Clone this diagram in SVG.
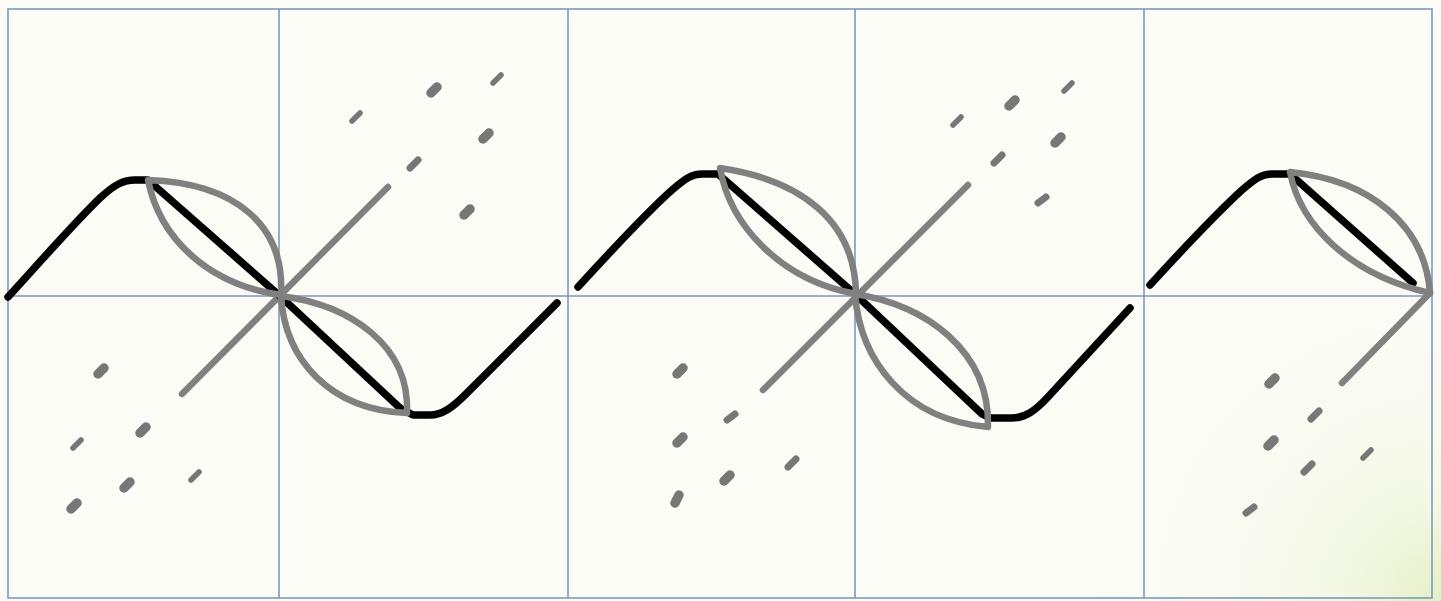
<svg xmlns="http://www.w3.org/2000/svg" width="1441" height="601" viewBox="0 0 1441 601">
<defs>
<radialGradient id="tint" cx="1441" cy="601" r="360" gradientUnits="userSpaceOnUse">
<stop offset="0" stop-color="#e6f0c8"/>
<stop offset="0.3" stop-color="#f4f8e6"/>
<stop offset="1" stop-color="#fbfcf6" stop-opacity="0"/>
</radialGradient>
<style>
.grid{fill:none;stroke:#7d99bf;stroke-width:1.6}
.blk{fill:none;stroke:#000;stroke-width:7.5;stroke-linecap:round;stroke-linejoin:round}
.gry{fill:none;stroke:#808080;stroke-width:6.5;stroke-linecap:round;stroke-linejoin:round}
.dt{stroke:#777;stroke-width:9.5;stroke-linecap:round}
.dm{stroke:#777;stroke-width:7;stroke-linecap:round}
.ds{stroke:#777;stroke-width:5.5;stroke-linecap:round}
</style>
</defs>
<rect width="1441" height="601" fill="#fbfcf6"/>
<rect width="1441" height="601" fill="url(#tint)"/>
<g id="grid">
<rect class="grid" x="8" y="9" width="1424" height="589"/>
<line class="grid" x1="279" y1="9" x2="279" y2="598"/>
<line class="grid" x1="568" y1="9" x2="568" y2="598"/>
<line class="grid" x1="855" y1="9" x2="855" y2="598"/>
<line class="grid" x1="1144" y1="9" x2="1144" y2="598"/>
<line class="grid" x1="8" y1="296" x2="1432" y2="296"/>
</g>
<g id="wave1">
<path class="gry" d="M182,394 L388,187"/>
<path class="blk" d="M8,297 C40,262 75,222 100,198 C115,184 124,180 135,180 L148,180 L280,296 L400,408 L413,415 L430,415 C442,415 452,408 466,394 C500,360 530,330 557,303"/>
<path class="gry" d="M148,180 C235,183 285,225 281,295 C210,285 160,240 148,180 Z"/>
<path class="gry" d="M281,296 C350,305 410,345 407,413 C330,410 285,360 281,296 Z"/>
</g>
<g id="wave2">
<path class="gry" d="M763,390 L968,185"/>
<path class="blk" d="M578,287 C610,252 645,214 672,190 C686,178 692,174 702,174 L718,174 L855,294 L982,414 L990,418 L1012,418 C1025,418 1035,411 1048,397 C1080,362 1105,335 1130,308"/>
<path class="gry" d="M720,168 C800,180 855,220 856,294 C780,280 730,225 720,168 Z"/>
<path class="gry" d="M855,294 C925,305 990,350 988,427 C905,420 860,360 855,294 Z"/>
</g>
<g id="wave3">
<path class="gry" d="M1342,383 L1430,293"/>
<path class="blk" d="M1150,285 C1182,250 1217,213 1242,190 C1256,178 1262,174 1272,174 L1290,174 L1413,283"/>
<path class="gry" d="M1290,172 C1370,180 1425,225 1430,293 C1350,275 1300,225 1290,172 Z"/>
</g>
<g id="dashes1">
<line class="ds" x1="352" y1="121" x2="360" y2="113"/>
<line class="dt" x1="431" y1="93" x2="437" y2="87"/>
<line class="ds" x1="493" y1="83" x2="501" y2="75"/>
<line class="dt" x1="483" y1="139" x2="489" y2="133"/>
<line class="dm" x1="410" y1="168" x2="418" y2="160"/>
<line class="dt" x1="464" y1="215" x2="470" y2="209"/>
<line class="dt" x1="98" y1="374" x2="104" y2="368"/>
<line class="dt" x1="140" y1="433" x2="146" y2="427"/>
<line class="ds" x1="73" y1="448" x2="81" y2="440"/>
<line class="dt" x1="124" y1="488" x2="130" y2="482"/>
<line class="dt" x1="71" y1="509" x2="77" y2="503"/>
<line class="ds" x1="191" y1="480" x2="199" y2="472"/>
</g>
<g id="dashes2">
<line class="ds" x1="953" y1="125" x2="961" y2="117"/>
<line class="dt" x1="1009" y1="106" x2="1015" y2="100"/>
<line class="ds" x1="1064" y1="91" x2="1072" y2="83"/>
<line class="dt" x1="1055" y1="143" x2="1061" y2="137"/>
<line class="dm" x1="994" y1="163" x2="1002" y2="155"/>
<line class="dm" x1="1038" y1="203" x2="1046" y2="197"/>
<line class="dt" x1="677" y1="374" x2="683" y2="368"/>
<line class="dm" x1="727" y1="420" x2="735" y2="414"/>
<line class="dt" x1="677" y1="443" x2="683" y2="437"/>
<line class="dm" x1="788" y1="467" x2="796" y2="459"/>
<line class="dt" x1="724" y1="481" x2="730" y2="475"/>
<line class="dt" x1="675" y1="503" x2="679" y2="495"/>
</g>
<g id="dashes3">
<line class="dt" x1="1269" y1="384" x2="1275" y2="378"/>
<line class="dm" x1="1311" y1="419" x2="1319" y2="411"/>
<line class="dt" x1="1268" y1="446" x2="1274" y2="440"/>
<line class="ds" x1="1363" y1="458" x2="1371" y2="450"/>
<line class="dm" x1="1304" y1="472" x2="1312" y2="464"/>
<line class="dm" x1="1246" y1="513" x2="1254" y2="507"/>
</g>
</svg>
